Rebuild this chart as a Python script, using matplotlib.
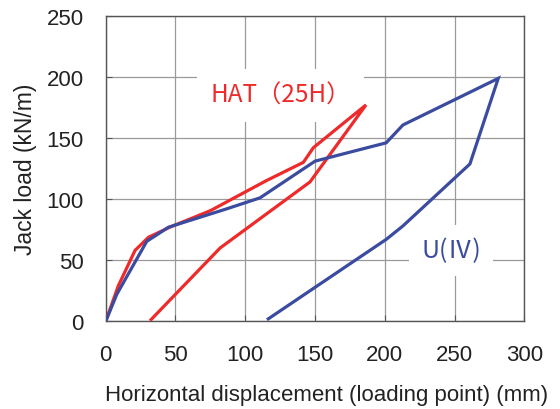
import matplotlib
matplotlib.use("Agg")
import matplotlib.pyplot as plt

# HAT(25H) loop: loading then unloading
hat_x = [0, 9, 21, 30.6, 46, 75, 115, 141.6, 148.8, 186.5, 146.4, 82, 32.5]
hat_y = [0, 29, 58, 68.7, 77, 90.5, 115, 130, 142, 177, 114, 60, 1.4]

# U(IV) loop
u_x = [0, 7.9, 29.4, 45, 86.7, 110.6, 150, 201, 213, 281.3, 261, 213, 201, 116.5]
u_y = [0, 22, 65.4, 77, 92, 101, 131, 146, 160.6, 198.7, 128.7, 78, 67, 2]

x_ticks = [0, 50, 100, 150, 200, 250, 300]
y_ticks = [0, 50, 100, 150, 200, 250]

red = "#EE2A2A"
blue = "#3A4BA0"

plt.rcParams["font.family"] = ["Liberation Sans", "DejaVu Sans"]

fig = plt.figure(figsize=(5.6, 4.1), dpi=100)
ax = fig.add_axes([0.1888, 0.2139, 0.7475, 0.7454])

ax.plot(hat_x, hat_y, color=red, lw=2.3, solid_joinstyle="miter", zorder=3)
ax.plot(u_x, u_y, color=blue, lw=2.3, solid_joinstyle="miter", zorder=4)

ax.set_xlim(0, 300)
ax.set_ylim(0, 250)
ax.set_xticks(x_ticks)
ax.set_yticks(y_ticks)
ax.grid(True, color="#9a9a9a", lw=0.9, zorder=0)
ax.set_axisbelow(True)
ax.tick_params(direction="in", length=4, color="#555555", labelsize=16,
               labelcolor="#222222")
ax.tick_params(axis="x", pad=16)
ax.tick_params(axis="y", pad=16)
for s in ax.spines.values():
    s.set_color("#555555")
    s.set_linewidth(1.0)

ax.set_xlabel("Horizontal displacement (loading point) (mm)", fontsize=16,
              color="#222222")
ax.xaxis.set_label_coords(0.527, -0.205)
ax.set_ylabel("Jack load (kN/m)", fontsize=16.5, color="#222222", labelpad=7)

ax.text(125.5, 185, "HAT（25H）", color=red, fontsize=17.5, ha="center", va="center",
        family=["Noto Sans CJK JP", "DejaVu Sans"], zorder=2,
        bbox=dict(boxstyle="square,pad=0.55", fc="white", ec="none"))
ax.text(247.5, 58, "U(Ⅳ)", color=blue, fontsize=18, ha="center", va="center",
        family=["Noto Sans CJK JP", "DejaVu Sans"], zorder=2,
        bbox=dict(boxstyle="square,pad=0.5", fc="white", ec="none"))

fig.savefig("out.png", dpi=100)
